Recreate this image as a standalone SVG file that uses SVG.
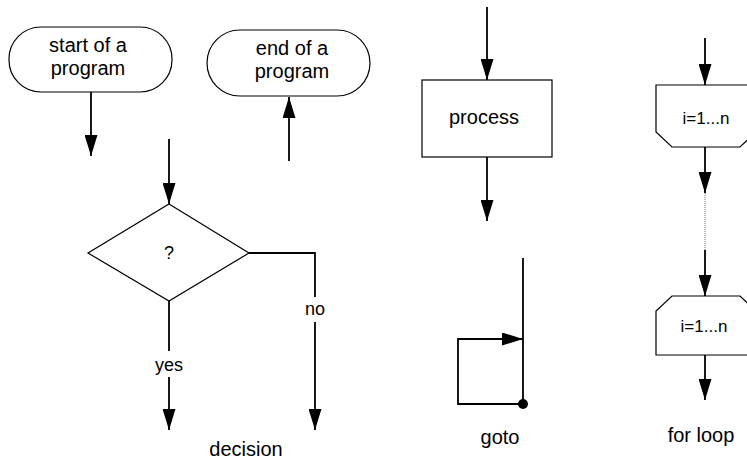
<svg xmlns="http://www.w3.org/2000/svg" width="747" height="459" viewBox="0 0 747 459">
<style>
.shape{fill:#fff;stroke:#000;stroke-width:1.2}
.conn{fill:none;stroke:#000;stroke-width:1.8}
.dot{fill:none;stroke:#888;stroke-width:1.2;stroke-dasharray:1 1}
text{font-family:"Liberation Sans",Arial,sans-serif;font-size:20px;fill:#000;text-anchor:middle}
.lbl{font-size:18px}
.idx{font-size:17px}
</style>
<defs>
<marker id="ah" markerUnits="userSpaceOnUse" markerWidth="21" markerHeight="13" refX="21" refY="6.5" orient="auto" viewBox="0 0 21 13">
<path d="M0,0 L21,6.5 L0,13 z" fill="#000"/>
</marker>
</defs>
<rect width="747" height="459" fill="#fff"/>
<g id="start">
<rect class="shape" x="9" y="27" width="163" height="65" rx="32" ry="32"/>
<text x="88" y="52">start of a</text>
<text x="88" y="75">program</text>
</g>
<g id="end">
<rect class="shape" x="207" y="30" width="163" height="66" rx="33" ry="33"/>
<text x="292" y="55">end of a</text>
<text x="292" y="78">program</text>
</g>
<g id="decision">
<polygon class="shape" points="169,204 249,253 169,301 88,253"/>
<text class="lbl" x="169" y="259">?</text>
</g>
<g id="process">
<rect class="shape" x="422" y="80" width="130" height="77"/>
<text x="484" y="124">process</text>
</g>
<g id="loop1">
<polygon class="shape" points="656,85 756,85 756,132 740,147 672,147 656,132"/>
<text class="idx" x="706" y="124">i=1...n</text>
</g>
<g id="loop2">
<polygon class="shape" points="672,296 740,296 756,311 756,355 656,355 656,311"/>
<text class="idx" x="704" y="332">i=1...n</text>
</g>
<g id="connectors">
<line class="conn" x1="91" y1="92" x2="91" y2="156" marker-end="url(#ah)"/>
<line class="conn" x1="289" y1="161" x2="289" y2="97" marker-end="url(#ah)"/>
<line class="conn" x1="169" y1="139" x2="169" y2="204" marker-end="url(#ah)"/>
<line class="conn" x1="169" y1="301" x2="169" y2="351"/>
<line class="conn" x1="169" y1="377" x2="169" y2="430" marker-end="url(#ah)"/>
<polyline class="conn" points="249,253 315,253 315,297"/>
<line class="conn" x1="315" y1="322" x2="315" y2="430" marker-end="url(#ah)"/>
<line class="conn" x1="487" y1="7" x2="487" y2="80" marker-end="url(#ah)"/>
<line class="conn" x1="487" y1="157" x2="487" y2="221" marker-end="url(#ah)"/>
<line class="conn" x1="523" y1="258" x2="523" y2="404"/>
<polyline class="conn" points="523,404 458,404 458,339 523,339" marker-end="url(#ah)"/>
<circle cx="523" cy="404" r="5" fill="#000"/>
<line class="conn" x1="705" y1="38" x2="705" y2="85" marker-end="url(#ah)"/>
<line class="conn" x1="705" y1="147" x2="705" y2="193" marker-end="url(#ah)"/>
<line class="dot" x1="705" y1="193" x2="705" y2="250"/>
<line class="conn" x1="705" y1="250" x2="705" y2="296" marker-end="url(#ah)"/>
<line class="conn" x1="705" y1="355" x2="705" y2="400" marker-end="url(#ah)"/>
</g>
<g id="labels">
<text class="lbl" x="169" y="371">yes</text>
<text class="lbl" x="315" y="315">no</text>
<text x="246" y="456">decision</text>
<text x="500" y="444">goto</text>
<text x="701" y="442">for loop</text>
</g>
</svg>
